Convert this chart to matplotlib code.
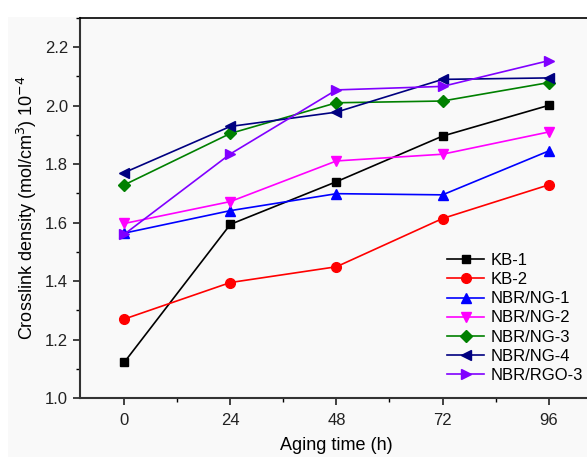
"""
Crosslink density vs aging time, Origin-style line/symbol plot.
"""

import matplotlib
matplotlib.use("Agg")
import matplotlib.pyplot as plt
from matplotlib.patches import Rectangle
from matplotlib.ticker import MultipleLocator

# ---------------------------------------------------------------------------
# Data
aging_time = [0, 24, 48, 72, 96]

kb_1 = [1.122, 1.594, 1.740, 1.896, 2.001]
kb_2 = [1.270, 1.395, 1.449, 1.614, 1.729]
nbr_ng_1 = [1.564, 1.641, 1.699, 1.695, 1.845]
nbr_ng_2 = [1.597, 1.672, 1.811, 1.834, 1.910]
nbr_ng_3 = [1.729, 1.905, 2.010, 2.016, 2.079]
nbr_ng_4 = [1.771, 1.929, 1.978, 2.090, 2.095]
nbr_rgo_3 = [1.560, 1.835, 2.054, 2.066, 2.154]

labels = ["KB-1", "KB-2", "NBR/NG-1", "NBR/NG-2", "NBR/NG-3", "NBR/NG-4", "NBR/RGO-3"]
series = [kb_1, kb_2, nbr_ng_1, nbr_ng_2, nbr_ng_3, nbr_ng_4, nbr_rgo_3]
colors = ["#000000", "#ff0000", "#0000ff", "#ff00ff", "#008000", "#000080", "#8000ff"]
markers = ["s", "o", "^", "v", "D", "<", ">"]
msizes = [6, 7, 7, 7, 6, 7, 7]

# ---------------------------------------------------------------------------
plt.rcParams["font.family"] = ["Liberation Sans", "DejaVu Sans"]

fig = plt.figure(figsize=(5.87, 4.57), dpi=100)
fig.patch.set_facecolor("white")
fig.patches.append(Rectangle((8 / 587, 0), 1, 1 - 17 / 457,
                             transform=fig.transFigure, facecolor="#f9f9f9",
                             edgecolor="none", zorder=-10))

ax = fig.add_axes([80 / 587, 59 / 457, 1 - 80 / 587 + 0.01, (398 - 18) / 457])
ax.set_facecolor("#f9f9f9")

for y, lab, c, m, ms in zip(series, labels, colors, markers, msizes):
    ax.plot(aging_time, y, color=c, marker=m, markersize=ms, linewidth=1.2,
            label=lab)

ax.set_xlim(-10, 106)
ax.set_ylim(1.0, 2.3)
ax.xaxis.set_major_locator(MultipleLocator(24))
ax.xaxis.set_minor_locator(MultipleLocator(12))
ax.yaxis.set_major_locator(MultipleLocator(0.2))
ax.yaxis.set_minor_locator(MultipleLocator(0.1))
ax.yaxis.set_major_formatter(matplotlib.ticker.FormatStrFormatter("%.1f"))

ax.tick_params(which="major", direction="out", length=5, width=1.2,
               labelsize=12, colors="#222222")
ax.tick_params(which="minor", direction="out", length=3, width=1.0)
ax.tick_params(axis="x", pad=6)

for side in ["left", "bottom"]:
    ax.spines[side].set_linewidth(1.5)
    ax.spines[side].set_color("#333333")
ax.spines["top"].set_linewidth(1.2)
ax.spines["right"].set_visible(False)

ax.set_xlabel("Aging time (h)", fontsize=13, labelpad=6)
ax.set_ylabel("Crosslink density (mol/cm$^3$) 10$^{-4}$", fontsize=13, labelpad=4)

ax.legend(loc="lower right", bbox_to_anchor=(1.01, 0.0), frameon=False,
          fontsize=12, handlelength=2.2, labelspacing=0.25, handletextpad=0.4)

fig.savefig("out.png", dpi=100)
